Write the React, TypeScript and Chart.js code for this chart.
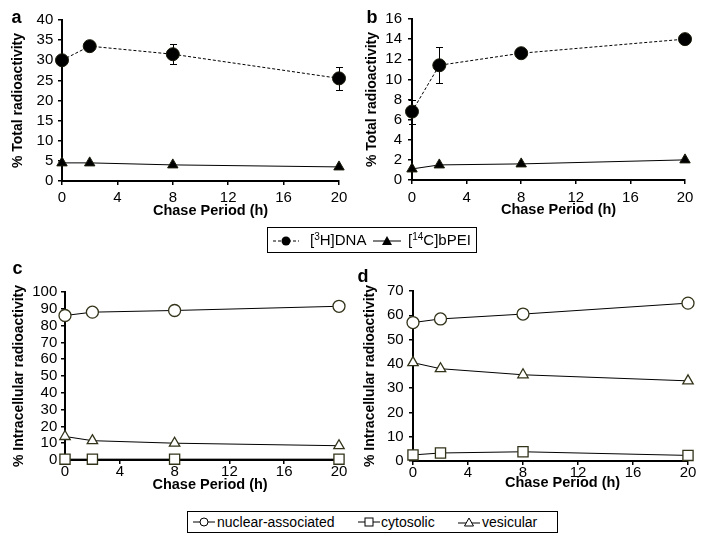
import React, { useEffect, useRef } from 'react';
import { Chart, registerables } from 'chart.js';

Chart.register(...registerables);

// ---------- data ----------
const chaseHours = [0, 2, 8, 20];
const xTicks = [0, 4, 8, 12, 16, 20];

const aDna = [30, 33.5, 31.5, 25.5];
const aDnaErr = [0.8, 0.6, 2.5, 2.8];
const aPei = [4.5, 4.5, 4.0, 3.5];
const aYTicks = [0, 5, 10, 15, 20, 25, 30, 35, 40];

const bDna = [6.8, 11.4, 12.6, 14.0];
const bDnaErr = [1.2, 1.8, 0.5, 0.3];
const bPei = [1.1, 1.5, 1.6, 2.0];
const bYTicks = [0, 2, 4, 6, 8, 10, 12, 14, 16];

const cNuclear = [86, 88, 89, 91.5];
const cCytosolic = [0.5, 0.5, 0.5, 0.5];
const cVesicular = [14, 11.5, 10, 8.5];
const cYTicks = [0, 10, 20, 30, 40, 50, 60, 70, 80, 90, 100];

const dNuclear = [57, 58.5, 60.5, 65];
const dCytosolic = [2.5, 3.3, 3.8, 2.3];
const dVesicular = [40.5, 38, 35.5, 33];
const dYTicks = [0, 10, 20, 30, 40, 50, 60, 70];

const xTitle = 'Chase Period (h)';
const totalTitle = '% Total radioactivity';
const intraTitle = '% Intracellular radioactivity';

// ---------- styles ----------
const FONT = "'Liberation Sans', Arial, Helvetica, sans-serif";
const OLIVE = '#33331a';

const pts = (vals: number[]) => chaseHours.map((h, i) => ({ x: h, y: vals[i] }));

const errorBars = {
  id: 'errorBars',
  beforeDatasetsDraw(chart: any) {
    const ctx = chart.ctx;
    chart.data.datasets.forEach((ds: any, i: number) => {
      const errs: number[] | undefined = ds.errors;
      if (!errs) return;
      const meta = chart.getDatasetMeta(i);
      const yScale = chart.scales[meta.yAxisID];
      ctx.save();
      ctx.strokeStyle = '#000';
      ctx.lineWidth = 1;
      meta.data.forEach((pt: any, j: number) => {
        const e = errs[j];
        if (!e) return;
        const v = ds.data[j].y;
        const yt = Math.round(yScale.getPixelForValue(v + e)) + 0.5;
        const yb = Math.round(yScale.getPixelForValue(v - e)) + 0.5;
        const x = Math.round(pt.x) + 0.5;
        ctx.beginPath();
        ctx.moveTo(x, yt);
        ctx.lineTo(x, yb);
        ctx.moveTo(x - 3.5, yt);
        ctx.lineTo(x + 3.5, yt);
        ctx.moveTo(x - 3.5, yb);
        ctx.lineTo(x + 3.5, yb);
        ctx.stroke();
      });
      ctx.restore();
    });
  },
};

type PanelOpts = {
  datasets: any[];
  yTicks: number[];
  yTitle: string;
  yWidth: number;
  xHeight: number;
  padding: { top: number; right: number; bottom: number; left: number };
  yTitlePad: number;
  yTickPad: number;
  xTickPad: number;
  xShift: number;
};

function buildConfig(o: PanelOpts): any {
  const tickFont = { family: FONT, size: 15, lineHeight: 1 };
  return {
    type: 'line',
    data: { datasets: o.datasets },
    plugins: [errorBars],
    options: {
      responsive: false,
      animation: false,
      devicePixelRatio: 1,
      layout: { padding: o.padding },
      plugins: { legend: { display: false }, tooltip: { enabled: false } },
      scales: {
        x: {
          type: 'linear',
          min: 0,
          max: 20,
          afterBuildTicks: (s: any) => {
            s.ticks = xTicks.map((v) => ({ value: v }));
          },
          afterFit: (s: any) => {
            s.height = o.xHeight;
          },
          ticks: { font: tickFont, color: '#000', padding: o.xTickPad, maxRotation: 0, autoSkip: false },
          grid: { drawOnChartArea: false, drawTicks: true, tickLength: 4, color: '#000', lineWidth: 1.5 },
          border: { display: true, color: '#000', width: 2 },
          title: {
            display: true,
            text: ' '.repeat(o.xShift) + xTitle,
            font: { family: FONT, size: 14.5, weight: 'bold' },
            color: '#000',
            padding: { top: 0, bottom: 0 },
          },
        },
        y: {
          type: 'linear',
          min: o.yTicks[0],
          max: o.yTicks[o.yTicks.length - 1],
          afterBuildTicks: (s: any) => {
            s.ticks = o.yTicks.map((v) => ({ value: v }));
          },
          afterFit: (s: any) => {
            s.width = o.yWidth;
          },
          ticks: { font: tickFont, color: '#000', padding: o.yTickPad, autoSkip: false },
          grid: { drawOnChartArea: false, drawTicks: true, tickLength: 4, color: '#000', lineWidth: 1.5 },
          border: { display: true, color: '#000', width: 2 },
          title: {
            display: true,
            text: o.yTitle,
            font: { family: FONT, size: 14, weight: 'bold' },
            color: '#000',
            padding: { top: o.yTitlePad, bottom: 0 },
          },
        },
      },
    },
  };
}

const dnaSet = (vals: number[], errs: number[]) => ({
  data: pts(vals),
  errors: errs,
  borderColor: '#000',
  borderWidth: 1,
  borderDash: [3, 2],
  pointStyle: 'circle',
  pointRadius: 6.5,
  pointBackgroundColor: '#000',
  pointBorderColor: '#1a1a0a',
  pointBorderWidth: 1,
  clip: false,
});

const peiSet = (vals: number[]) => ({
  data: pts(vals),
  borderColor: '#000',
  borderWidth: 1,
  pointStyle: 'triangle',
  pointRadius: 6,
  pointBackgroundColor: '#000',
  pointBorderColor: '#1a1a0a',
  pointBorderWidth: 1,
  clip: false,
});

const openSet = (vals: number[], style: string, radius: number) => ({
  data: pts(vals),
  borderColor: '#000',
  borderWidth: 1,
  pointStyle: style,
  pointRadius: radius,
  pointBackgroundColor: '#fff',
  pointBorderColor: OLIVE,
  pointBorderWidth: 1.3,
  clip: false,
});

function Panel({ left, top, width, height, config }: any) {
  const ref = useRef<HTMLCanvasElement>(null);
  useEffect(() => {
    const chart = new Chart(ref.current as HTMLCanvasElement, config);
    return () => chart.destroy();
  }, []);
  return (
    <canvas
      ref={ref}
      width={width}
      height={height}
      style={{ position: 'absolute', left, top, width, height }}
    />
  );
}

const letterStyle = (left: number, top: number): React.CSSProperties => ({
  position: 'absolute',
  left,
  top,
  fontFamily: FONT,
  fontWeight: 'bold',
  fontSize: 18,
  lineHeight: '18px',
  color: '#000',
});

const abs = (left: number, top: number, extra: React.CSSProperties = {}): React.CSSProperties => ({
  position: 'absolute',
  left,
  top,
  ...extra,
});

function Sup({ children }: any) {
  return <span style={{ fontSize: 10, position: 'relative', top: -5 }}>{children}</span>;
}

export default function App() {
  const cfgA = buildConfig({
    datasets: [dnaSet(aDna, aDnaErr), peiSet(aPei)],
    yTicks: aYTicks,
    yTitle: totalTitle,
    yWidth: 62,
    xHeight: 39,
    padding: { top: 20, right: 14, bottom: 3, left: 0 },
    yTitlePad: 9.6,
    yTickPad: 4.7,
    xTickPad: 5,
    xShift: 5,
  });
  const cfgB = buildConfig({
    datasets: [dnaSet(bDna, bDnaErr), peiSet(bPei)],
    yTicks: bYTicks,
    yTitle: totalTitle,
    yWidth: 59,
    xHeight: 39,
    padding: { top: 19, right: 22, bottom: 4, left: 0 },
    yTitlePad: 10.6,
    yTickPad: 6,
    xTickPad: 6,
    xShift: 5,
  });
  const cfgC = buildConfig({
    datasets: [openSet(cNuclear, 'circle', 6), openSet(cCytosolic, 'rect', 7.2), openSet(cVesicular, 'triangle', 6)],
    yTicks: cYTicks,
    yTitle: intraTitle,
    yWidth: 65,
    xHeight: 34,
    padding: { top: 30, right: 14, bottom: 3, left: 0 },
    yTitlePad: 10.6,
    yTickPad: 3.7,
    xTickPad: 0.5,
    xShift: 4,
  });
  const cfgD = buildConfig({
    datasets: [openSet(dNuclear, 'circle', 6), openSet(dCytosolic, 'rect', 7.2), openSet(dVesicular, 'triangle', 6)],
    yTicks: dYTicks,
    yTitle: intraTitle,
    yWidth: 60,
    xHeight: 31,
    padding: { top: 29, right: 19, bottom: 5, left: 0 },
    yTitlePad: 8.6,
    yTickPad: 5.4,
    xTickPad: 0,
    xShift: 6,
  });

  const legendText: React.CSSProperties = { fontFamily: FONT, color: '#000', whiteSpace: 'nowrap' };

  return (
    <div style={{ position: 'absolute', left: 0, top: 0, width: 707, height: 542, background: '#fff', overflow: 'hidden' }}>
      <Panel left={0} top={0} width={353} height={223} config={cfgA} />
      <Panel left={353} top={0} width={354} height={223} config={cfgB} />
      <Panel left={0} top={262} width={353} height={235} config={cfgC} />
      <Panel left={353} top={262} width={354} height={235} config={cfgD} />

      <div style={letterStyle(11.5, 8)}>a</div>
      <div style={letterStyle(366.5, 8)}>b</div>
      <div style={letterStyle(12.5, 259)}>c</div>
      <div style={letterStyle(357.5, 266.5)}>d</div>

      {/* legend for a/b */}
      <div style={abs(267, 227, { width: 208, height: 24, border: '1px solid #000', boxSizing: 'content-box' })}>
        <svg style={abs(5, 6)} width={26} height={14}>
          <line x1={0} y1={7} x2={26} y2={7} stroke="#000" strokeWidth={1} strokeDasharray="3 2" />
          <circle cx={13} cy={7} r={4.5} fill="#000" />
        </svg>
        <div style={abs(42, 3, { ...legendText, fontSize: 15, lineHeight: '18px' })}>
          [<Sup>3</Sup>H]DNA
        </div>
        <svg style={abs(105, 6)} width={28} height={14}>
          <line x1={0} y1={7} x2={28} y2={7} stroke="#000" strokeWidth={1} />
          <polygon points="14,2 19,11 9,11" fill="#000" />
        </svg>
        <div style={abs(140, 3, { ...legendText, fontSize: 15, lineHeight: '18px' })}>
          [<Sup>14</Sup>C]bPEI
        </div>
      </div>

      {/* legend for c/d */}
      <div style={abs(187, 511, { width: 369, height: 20, border: '1px solid #000', boxSizing: 'content-box' })}>
        <svg style={abs(5, 3)} width={22} height={14}>
          <line x1={0} y1={7} x2={22} y2={7} stroke="#000" strokeWidth={1} />
          <circle cx={11} cy={7} r={4} fill="#fff" stroke="#000" strokeWidth={1} />
        </svg>
        <div style={abs(29, 1, { ...legendText, fontSize: 14, lineHeight: '18px' })}>nuclear-associated</div>
        <svg style={abs(170, 3)} width={22} height={14}>
          <line x1={0} y1={7} x2={22} y2={7} stroke="#000" strokeWidth={1} />
          <rect x={7} y={3} width={8} height={8} fill="#fff" stroke="#000" strokeWidth={1} />
        </svg>
        <div style={abs(193, 1, { ...legendText, fontSize: 14, lineHeight: '18px' })}>cytosolic</div>
        <svg style={abs(270, 3)} width={22} height={14}>
          <line x1={0} y1={8} x2={22} y2={8} stroke="#000" strokeWidth={1} />
          <polygon points="11,3 15.5,11 6.5,11" fill="#fff" stroke="#000" strokeWidth={1} />
        </svg>
        <div style={abs(294, 1, { ...legendText, fontSize: 14, lineHeight: '18px' })}>vesicular</div>
      </div>
    </div>
  );
}
